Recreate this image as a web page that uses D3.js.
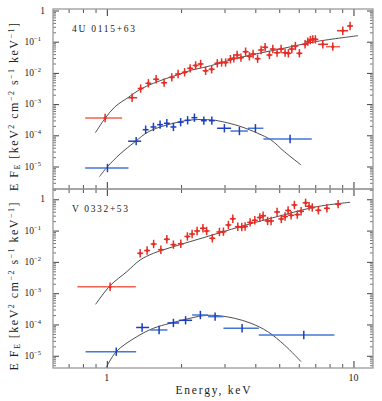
<!DOCTYPE html>
<html>
<head>
<meta charset="utf-8">
<script src="https://cdn.jsdelivr.net/npm/d3@7"></script>
<style>
body { margin: 0; background: #fff; }
text { font-family: "Liberation Serif", "DejaVu Serif", serif; fill: #222; }
</style>
</head>
<body>
<div id="chart"></div>
<script>
// Spectra of two sources, E*F_E vs energy (keV)

// --- 4U 0115+63 (top panel) ---
var topRedE = [0.984, 1.266, 1.371, 1.474, 1.585, 1.707, 1.834, 1.945, 2.067, 2.177, 2.291, 2.400, 2.515, 2.660, 2.805,
    2.920, 3.031, 3.170, 3.272, 3.375, 3.497, 3.653, 3.784, 3.917, 4.086, 4.222, 4.383, 4.562, 4.709, 4.901,
    5.088, 5.281, 5.447, 5.623, 5.815, 6.036, 6.366, 6.529, 6.688, 6.839, 7.008, 7.509, 8.245, 9.05, 9.687];
var topRedF = [3.58e-4, 1.60e-3, 3.16e-3, 4.64e-3, 6.24e-3, 4.85e-3, 7.22e-3, 9.22e-3, 1.045e-2, 1.40e-2, 1.73e-2, 1.93e-2, 1.17e-2, 1.31e-2, 2.03e-2,
    2.15e-2, 2.15e-2, 2.75e-2, 2.94e-2, 3.75e-2, 3.07e-2, 4.78e-2, 3.40e-2, 4.04e-2, 2.85e-2, 5.42e-2, 6.62e-2, 3.75e-2, 5.83e-2, 4.44e-2,
    5.83e-2, 4.44e-2, 4.25e-2, 5.83e-2, 7.28e-2, 4.25e-2, 8.26e-2, 0.100, 0.1134, 0.119, 0.119, 8.26e-2, 6.92e-2, 0.225, 0.319];
// [index, E low, E high] for the wider energy bins
var topRedBins = [[0, 0.817, 1.153], [1, 1.220, 1.327], [41, 7.19, 7.89], [42, 7.74, 8.83], [43, 8.58, 9.51]];

var topBlueE = [1.006, 1.315, 1.437, 1.545, 1.644, 1.751, 1.862, 1.992, 2.126, 2.265, 2.473, 2.665, 2.997, 3.448, 4.004, 5.534];
var topBlueF = [8.95e-6, 6.47e-5, 1.51e-4, 1.85e-4, 2.19e-4, 2.43e-4, 1.85e-4, 2.63e-4, 3.03e-4, 3.67e-4, 2.94e-4, 2.94e-4, 1.68e-4, 1.37e-4, 1.68e-4, 7.61e-5];
var topBlueBins = [[0, 0.817, 1.224], [1, 1.220, 1.377], [12, 2.80, 3.19], [13, 3.17, 3.73], [14, 3.73, 4.313], [15, 4.313, 6.776]];

var topRedModelE = [0.899, 0.984, 1.080, 1.224, 1.365, 1.545, 1.751, 1.982, 2.211, 2.544, 3.470, 5.197, 7.086, 10.44];
var topRedModelF = [1.21e-4, 3.51e-4, 8.26e-4, 1.65e-3, 2.98e-3, 4.64e-3, 6.71e-3, 9.22e-3, 1.24e-2, 1.58e-2, 3.12e-2, 6.13e-2, 0.1015, 0.156];
var topBlueModelE = [0.933, 1.006, 1.132, 1.302, 1.474, 1.751, 2.110, 2.388, 2.748, 3.161, 3.503, 4.093, 4.634, 5.248, 6.133];
var topBlueModelF = [4.71e-6, 9.86e-6, 2.52e-5, 6.24e-5, 1.30e-4, 2.14e-4, 2.98e-4, 3.21e-4, 3.03e-4, 2.39e-4, 1.89e-4, 1.16e-4, 7.07e-5, 2.98e-5, 1.12e-5];

// --- V 0332+53 (bottom panel) ---
var botRedE = [1.031, 1.365, 1.457, 1.548, 1.656, 1.751, 1.862, 1.995, 2.122, 2.217, 2.323, 2.453, 2.539, 2.677, 2.861,
    2.970, 3.111, 3.242, 3.396, 3.525, 3.636, 3.810, 3.981, 4.171, 4.302, 4.486, 4.634, 4.901, 5.097, 5.281,
    5.432, 5.587, 5.761, 5.919, 6.133, 6.396, 6.607, 6.808, 7.206, 7.803, 8.664];
var botRedF = [1.61e-3, 1.88e-2, 2.31e-2, 3.73e-2, 2.45e-2, 5.27e-2, 3.55e-2, 3.79e-2, 6.48e-2, 7.79e-2, 9.71e-2, 0.1184, 9.71e-2, 5.68e-2, 9.02e-2,
    9.22e-2, 0.151, 0.238, 0.133, 0.130, 0.135, 0.182, 0.213, 0.262, 0.297, 0.203, 0.203, 0.393, 0.235, 0.282,
    0.439, 0.308, 0.658, 0.324, 0.414, 0.773, 0.597, 0.547, 0.445, 0.516, 0.697];
var botRedBins = [[0, 0.760, 1.311]];

var botBlueE = [1.092, 1.390, 1.629, 1.862, 2.086, 2.395, 2.748, 3.535, 6.289];
var botBlueF = [1.35e-5, 8.02e-5, 6.67e-5, 1.12e-4, 1.36e-4, 2.01e-4, 1.78e-4, 7.56e-5, 4.62e-5];
var botBlueBins = [[0, 0.82, 1.315], [1, 1.315, 1.484], [2, 1.498, 1.761], [3, 1.761, 1.963], [4, 1.963, 2.217],
    [5, 2.217, 2.574], [6, 2.574, 2.970], [7, 2.970, 4.131], [8, 4.131, 8.369]];

var botRedModelE = [0.901, 1.031, 1.205, 1.365, 1.545, 1.862, 2.544, 3.470, 5.197, 7.100, 9.687];
var botRedModelF = [4.42e-4, 1.74e-3, 4.86e-3, 1.15e-2, 1.88e-2, 3.06e-2, 6.38e-2, 0.133, 0.315, 0.580, 0.802];
var botBlueModelE = [0.991, 1.091, 1.323, 1.545, 1.805, 2.177, 2.411, 2.648, 2.906, 3.290, 3.845, 4.494, 5.248, 6.133];
var botBlueModelF = [3.99e-6, 1.35e-5, 4.07e-5, 7.57e-5, 1.09e-4, 1.58e-4, 1.87e-4, 1.97e-4, 1.87e-4, 1.58e-4, 1.09e-4, 5.89e-5, 2.21e-5, 6.48e-6];

// tick labels
var xTickLabels = [1, 10];
var yMajorTicks = [1e-5, 1e-4, 1e-3, 1e-2, 1e-1, 1];

// Layout
var svgWidth = 382;
var svgHeight = 401;
var plotLeft = 53;
var plotRight = 373;

var red = "#e62d26", redWide = "#f0624f";
var blue = "#1b3fbf", blueWide = "#4676d6";
var axisColor = "#9a9a9a";

var svg = d3.select("#chart")
    .append("svg")
    .attr("width", svgWidth)
    .attr("height", svgHeight);

var xScale = d3.scaleLog().domain([0.605, 12.0]).range([plotLeft, plotRight]);

var panels = [
    { name: "4U 0115+63", top: 9, bottom: 189, yDomain: [1.9e-6, 1.117],
      redE: topRedE, redF: topRedF, redBins: topRedBins,
      blueE: topBlueE, blueF: topBlueF, blueBins: topBlueBins,
      redModel: [topRedModelE, topRedModelF], blueModel: [topBlueModelE, topBlueModelF] },
    { name: "V 0332+53", top: 189, bottom: 368, yDomain: [4.07e-6, 2.13],
      redE: botRedE, redF: botRedF, redBins: botRedBins,
      blueE: botBlueE, blueF: botBlueF, blueBins: botBlueBins,
      redModel: [botRedModelE, botRedModelF], blueModel: [botBlueModelE, botBlueModelF] }
];

// minor ticks along x (0.7..0.9, 2..9)
var xMinor = [0.7, 0.8, 0.9, 2, 3, 4, 5, 6, 7, 8, 9];

function minorDecades(domain) {
    var out = [];
    for (var k = -7; k <= 1; k++) {
        for (var m = 2; m <= 9; m++) {
            var v = m * Math.pow(10, k);
            if (v > domain[0] && v < domain[1]) out.push(v);
        }
    }
    return out;
}

function styleAxis(sel, color, width) {
    sel.select(".domain").remove();
    sel.selectAll(".tick line").attr("stroke", color).attr("stroke-width", width);
}

function drawPoints(g, y, E, F, bins, color, wideColor, dot) {
    var pts = E.map(function (e, i) {
        return { e: e, f: F[i], lo: e / 1.028, hi: e * 1.028 };
    });
    bins.forEach(function (b) { pts[b[0]].lo = b[1]; pts[b[0]].hi = b[2]; });

    var grp = g.append("g");
    grp.selectAll("line.h").data(pts).enter().append("line")
        .attr("class", "h")
        .attr("x1", d => xScale(d.lo))
        .attr("x2", d => xScale(d.hi))
        .attr("y1", d => y(d.f))
        .attr("y2", d => y(d.f))
        .attr("stroke", d => (xScale(d.hi) - xScale(d.lo) > 14 ? wideColor : color))
        .attr("stroke-width", 1.5);
    grp.selectAll("line.v").data(pts).enter().append("line")
        .attr("class", "v")
        .attr("x1", d => xScale(d.e))
        .attr("x2", d => xScale(d.e))
        .attr("y1", d => y(d.f / 1.36))
        .attr("y2", d => y(d.f * 1.36))
        .attr("stroke", color)
        .attr("stroke-width", 1.5);
    if (dot) {
        grp.selectAll("circle").data(pts).enter().append("circle")
            .attr("cx", d => xScale(d.e))
            .attr("cy", d => y(d.f))
            .attr("r", 1.5)
            .attr("fill", color);
    }
}

panels.forEach(function (p, pi) {
    var y = d3.scaleLog().domain(p.yDomain).range([p.bottom, p.top]);
    var g = svg.append("g");

    var clipId = "clip" + pi;
    svg.append("clipPath").attr("id", clipId)
        .append("rect")
        .attr("x", plotLeft).attr("y", p.top)
        .attr("width", plotRight - plotLeft).attr("height", p.bottom - p.top);

    var yMinor = minorDecades(p.yDomain);
    var yMajor = yMajorTicks.filter(v => v >= p.yDomain[0] && v <= p.yDomain[1]);

    // y ticks, left and right, pointing inward
    g.append("g").attr("transform", `translate(${plotLeft},0)`)
        .call(d3.axisLeft(y).tickValues(yMinor).tickSize(-3).tickFormat(""))
        .call(s => styleAxis(s, "#666", 0.9));
    g.append("g").attr("transform", `translate(${plotLeft},0)`)
        .call(d3.axisLeft(y).tickValues(yMajor).tickSize(-6).tickFormat(""))
        .call(s => styleAxis(s, "#444", 1));
    g.append("g").attr("transform", `translate(${plotRight},0)`)
        .call(d3.axisRight(y).tickValues(yMinor).tickSize(-3).tickFormat(""))
        .call(s => styleAxis(s, "#666", 0.9));
    g.append("g").attr("transform", `translate(${plotRight},0)`)
        .call(d3.axisRight(y).tickValues(yMajor).tickSize(-6).tickFormat(""))
        .call(s => styleAxis(s, "#444", 1));

    // x ticks on top and bottom edges
    [[p.top, d3.axisTop], [p.bottom, d3.axisBottom]].forEach(function (a) {
        g.append("g").attr("transform", `translate(0,${a[0]})`)
            .call(a[1](xScale).tickValues(xMinor).tickSize(-4).tickFormat(""))
            .call(s => styleAxis(s, "#555", 1));
        g.append("g").attr("transform", `translate(0,${a[0]})`)
            .call(a[1](xScale).tickValues(xTickLabels).tickSize(-7).tickFormat(""))
            .call(s => styleAxis(s, "#333", 1));
    });

    // y tick labels
    yMajor.forEach(function (v) {
        var exp = Math.round(Math.log10(v));
        var t = g.append("text")
            .attr("y", y(v) + 3.2)
            .attr("text-anchor", "end")
            .attr("font-size", 9.5);
        if (exp === 0) {
            t.attr("x", 45).text("1");
        } else {
            t.attr("x", 41);
            t.append("tspan").text("10");
            t.append("tspan").attr("dy", -4).attr("font-size", 6.5).text("\u2212" + (-exp));
        }
    });

    // model curves and data
    var plot = g.append("g").attr("clip-path", `url(#${clipId})`);
    var line = d3.line()
        .x(d => xScale(d[0]))
        .y(d => y(d[1]))
        .curve(d3.curveCatmullRom.alpha(0.5));
    [p.redModel, p.blueModel].forEach(function (m) {
        plot.append("path")
            .datum(m[0].map((e, i) => [e, m[1][i]]))
            .attr("d", line)
            .attr("fill", "none")
            .attr("stroke", "#3a3a3a")
            .attr("stroke-width", 0.9);
    });
    drawPoints(plot, y, p.redE, p.redF, p.redBins, red, redWide, true);
    drawPoints(plot, y, p.blueE, p.blueF, p.blueBins, blue, blueWide, false);

    // source name
    g.append("text")
        .attr("x", 72)
        .attr("y", p.top + 22.5)
        .attr("font-family", "'Liberation Sans', Arial, sans-serif")
        .attr("font-size", 9.5)
        .attr("textLength", pi === 0 ? 63 : 56)
        .attr("lengthAdjust", "spacing")
        .text(p.name);

    // y axis title
    var yt = g.append("text")
        .attr("transform", `translate(18,${(p.top + p.bottom) / 2 + 8}) rotate(-90)`)
        .attr("text-anchor", "middle")
        .attr("font-size", 12)
        .attr("textLength", 168)
        .attr("lengthAdjust", "spacing");
    yt.append("tspan").text("E F");
    yt.append("tspan").attr("dy", 2).attr("font-size", 8).text("E");
    yt.append("tspan").attr("dy", -2).text(" [keV");
    yt.append("tspan").attr("dy", -4).attr("font-size", 8).text("2");
    yt.append("tspan").attr("dy", 4).text(" cm");
    yt.append("tspan").attr("dy", -4).attr("font-size", 8).text("\u22122");
    yt.append("tspan").attr("dy", 4).text(" s");
    yt.append("tspan").attr("dy", -4).attr("font-size", 8).text("\u22121");
    yt.append("tspan").attr("dy", 4).text(" keV");
    yt.append("tspan").attr("dy", -4).attr("font-size", 8).text("\u22121");
    yt.append("tspan").attr("dy", 4).text("]");

    // frame
    g.append("rect")
        .attr("x", plotLeft).attr("y", p.top)
        .attr("width", plotRight - plotLeft).attr("height", p.bottom - p.top)
        .attr("fill", "none")
        .attr("stroke", axisColor)
        .attr("stroke-width", 1.3);
});

// x tick labels
svg.selectAll(".xlab")
    .data(xTickLabels)
    .enter()
    .append("text")
    .attr("x", d => xScale(d))
    .attr("y", 381)
    .attr("text-anchor", "middle")
    .attr("font-size", 10)
    .text(d => d);

// x axis title
svg.append("text")
    .attr("x", 213)
    .attr("y", 394)
    .attr("text-anchor", "middle")
    .attr("font-size", 11.5)
    .attr("textLength", 75)
    .attr("lengthAdjust", "spacing")
    .text("Energy, keV");
</script>
</body>
</html>
